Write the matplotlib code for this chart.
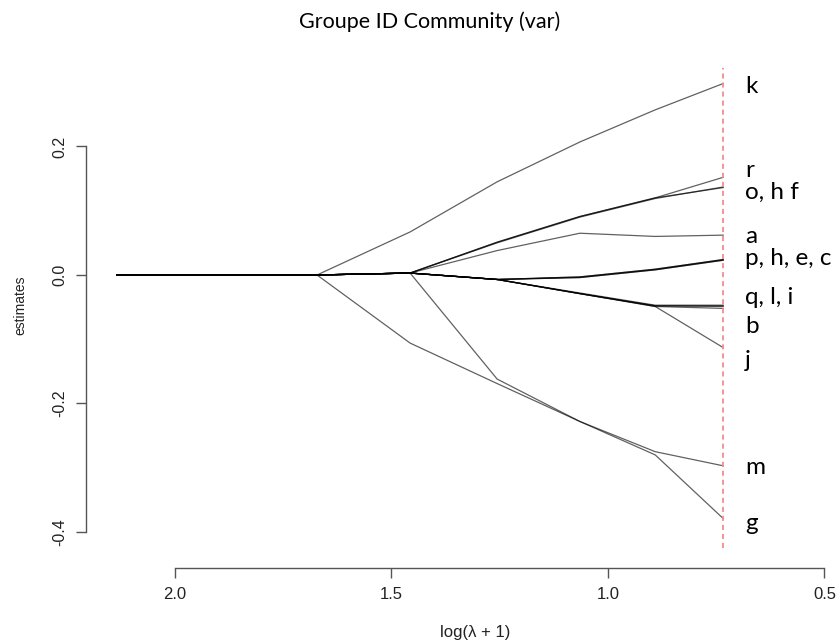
import matplotlib
matplotlib.use("Agg")
import matplotlib.pyplot as plt

plt.rcParams['axes.unicode_minus'] = False

# log(lambda+1) knots along the path
log_lambda = [2.134, 1.672, 1.457, 1.256, 1.065, 0.891, 0.734]

series = {
    'k': [0, 0, 0.067, 0.145, 0.207, 0.257, 0.298],
    'r': [0, 0, 0.003, 0.051, 0.091, 0.120, 0.152],
    'o': [0, 0, 0.003, 0.051, 0.091, 0.120, 0.136],
    'f': [0, 0, 0.003, 0.050, 0.090, 0.119, 0.137],
    'a': [0, 0, 0.003, 0.038, 0.065, 0.060, 0.062],
    'p': [0, 0, 0.003, -0.007, -0.004, 0.008, 0.023],
    'h': [0, 0, 0.003, -0.007, -0.003, 0.009, 0.024],
    'e': [0, 0, 0.003, -0.007, -0.004, 0.008, 0.023],
    'c': [0, 0, 0.003, -0.007, -0.003, 0.009, 0.024],
    'q': [0, 0, 0.003, -0.007, -0.028, -0.047, -0.047],
    'l': [0, 0, 0.003, -0.007, -0.029, -0.048, -0.048],
    'i': [0, 0, 0.003, -0.007, -0.029, -0.048, -0.049],
    'b': [0, 0, 0.003, -0.007, -0.029, -0.049, -0.052],
    'j': [0, 0, 0.003, -0.007, -0.029, -0.049, -0.113],
    'm': [0, 0, -0.106, -0.169, -0.228, -0.275, -0.297],
    'g': [0, 0, 0.003, -0.162, -0.228, -0.280, -0.379],
}

# end-of-path label groups and their baseline heights
label_texts = ['k', 'r', 'o, h f', 'a', 'p, h, e, c', 'q, l, i', 'b', 'j', 'm', 'g']
label_y = [0.283, 0.152, 0.119, 0.049, 0.016, -0.045, -0.091, -0.143, -0.310, -0.397]
label_x = 0.683

selected_lambda = 0.734
sel_ymin, sel_ymax = -0.425, 0.322

xticks = [2.0, 1.5, 1.0, 0.5]
yticks = [-0.4, -0.2, 0.0, 0.2]

W, H = 839, 644
fig = plt.figure(figsize=(W / 100, H / 100), dpi=100)
left_px, right_px, bottom_px, top_px = 85.7, 839, 567.7, 30
ax = fig.add_axes([left_px / W, 1 - bottom_px / H,
                   (right_px - left_px) / W, (bottom_px - top_px) / H])
xlo, xhi = 2.2062, 0.4665
ylo, yhi = -0.4556, 0.3813
ax.set_xlim(xlo, xhi)
ax.set_ylim(ylo, yhi)

for name, vals in series.items():
    ax.plot(log_lambda, vals, color='black', lw=0.9, alpha=0.62,
            solid_joinstyle='round')

ax.axvline(selected_lambda,
           ymin=(sel_ymin - ylo) / (yhi - ylo), ymax=(sel_ymax - ylo) / (yhi - ylo),
           color='#f28c8c', lw=1.3, linestyle=(0, (2.8, 2.2)))

for t, y in zip(label_texts, label_y):
    ax.text(label_x, y, t, family='Lato', fontsize=17.5, ha='left',
            va='baseline', color='black', clip_on=False)

for s in ['top', 'right']:
    ax.spines[s].set_visible(False)
ax.spines['left'].set_bounds(yticks[0], yticks[-1])
ax.spines['bottom'].set_bounds(xticks[0], xticks[-1])
for s in ['left', 'bottom']:
    ax.spines[s].set_color('#555555')
    ax.spines[s].set_linewidth(1.0)

ax.set_xticks(xticks)
ax.set_xticklabels([f"{v:.1f}" for v in xticks], family='Liberation Sans', fontsize=12)
ax.set_yticks(yticks)
ax.set_yticklabels([f"{v:.1f}" for v in yticks], family='Liberation Sans', fontsize=11.5,
                   rotation=90, va='center')
ax.tick_params(axis='both', direction='out', length=7.2, width=1.0, color='#555555',
               labelcolor='#222222')
ax.tick_params(axis='x', pad=6.5)
ax.tick_params(axis='y', pad=6)

fig.text(475 / W, 1 - 632 / H, 'log(\u03bb + 1)', ha='center', va='center',
         fontsize=12, color='#222222', family='Liberation Sans')
fig.text(20 / W, 1 - 305 / H, 'estimates', rotation=90, ha='center', va='center',
         fontsize=10, color='#222222', family='Liberation Sans')
fig.text(430 / W, 1 - 22 / H, 'Groupe ID Community (var)', ha='center', va='center',
         fontsize=15.5, family='Lato', color='black')

fig.savefig('out.png', dpi=100)
